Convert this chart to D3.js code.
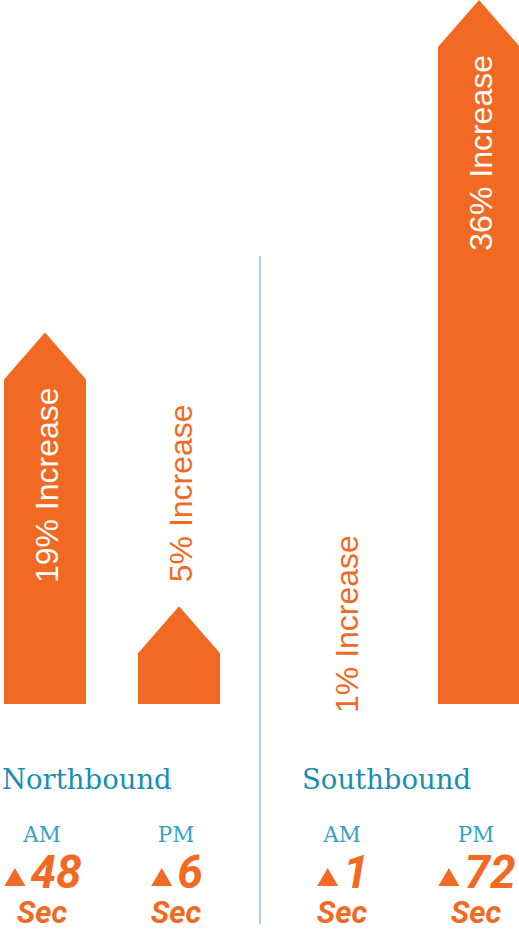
<!DOCTYPE html>
<html>
<head>
<meta charset="utf-8">
<script src="https://cdn.jsdelivr.net/npm/d3@7/dist/d3.min.js"></script>
<style>
  html, body { margin: 0; padding: 0; background: #fff; }
  svg { display: block; }
</style>
</head>
<body>
<svg id="chart" width="519" height="931"></svg>
<script>
// data
var groups = ["Northbound", "Southbound"];
var periods = ["AM", "PM"];
var increasePct = [19, 5, 1, 36];   // NB AM, NB PM, SB AM, SB PM
var delaySec = [48, 6, 1, 72];

var orange = "#f26924";
var teal = "#1a8eb0";

var rows = [];
groups.forEach(function (g, gi) {
  periods.forEach(function (p, pi) {
    var i = gi * periods.length + pi;
    rows.push({ group: g, period: p, pct: increasePct[i], sec: delaySec[i] });
  });
});

var svg = d3.select("#chart");

var x0 = d3.scaleBand().domain(groups).range([4, 520]).paddingInner(0.28);
var x1 = d3.scaleBand().domain(periods).range([0, x0.bandwidth()]).paddingInner(0.388);
var y = d3.scaleLinear().domain([0, 36]).range([704, 0]);
var headH = 47;

function cx(d) {
  return x0(d.group) + x1(d.period) + x1.bandwidth() / 2;
}

// arrows
var arrows = svg.append("g");
arrows.selectAll("path")
  .data(rows.filter(function (d) { return y(0) - y(d.pct) > headH; }))
  .enter()
  .append("path")
  .attr("fill", orange)
  .attr("d", function (d) {
    var left = x0(d.group) + x1(d.period);
    var right = left + x1.bandwidth();
    var top = y(d.pct);
    var p = d3.path();
    p.moveTo(left, y(0));
    p.lineTo(left, top + headH);
    p.lineTo(cx(d), top);
    p.lineTo(right, top + headH);
    p.lineTo(right, y(0));
    p.closePath();
    return p.toString();
  });

// increase labels
var labelW = 210;
arrows.selectAll("text")
  .data(rows)
  .enter()
  .append("text")
  .attr("font-family", "'Liberation Sans', Arial, sans-serif")
  .attr("font-size", "32px")
  .attr("dy", "0.36em")
  .each(function (d) {
    var h = y(0) - y(d.pct);
    var inside = h - headH > labelW;
    var pos;
    if (inside) {
      pos = y(d.pct) + 55;
      d3.select(this).attr("text-anchor", "end").attr("fill", "#fff");
    } else {
      pos = h > headH ? y(d.pct) - 24 : y(0) + 9;
      d3.select(this).attr("text-anchor", "start").attr("fill", orange);
    }
    d3.select(this).attr("transform", "translate(" + (cx(d) + 1) + "," + pos + ") rotate(-90)");
  })
  .text(function (d) { return d.pct + "% Increase"; });

// divider
var midX = (x0(groups[0]) + x0.bandwidth() + x0(groups[1])) / 2 - 2;
svg.append("line")
  .attr("x1", midX).attr("x2", midX)
  .attr("y1", 256).attr("y2", 924)
  .attr("stroke", "#93bdd5")
  .attr("stroke-width", 1.5);

// group titles
svg.append("g")
  .selectAll("text")
  .data(groups)
  .enter()
  .append("text")
  .attr("x", function (g) { return x0(g) - 2; })
  .attr("y", 789)
  .attr("font-family", "'Roboto Slab', 'DejaVu Serif', serif")
  .attr("font-size", "27.5px")
  .attr("fill", teal)
  .text(function (g) { return g; });

// period labels
svg.append("g")
  .selectAll("text")
  .data(rows)
  .enter()
  .append("text")
  .attr("x", function (d) { return cx(d) - 3; })
  .attr("y", 842)
  .attr("text-anchor", "middle")
  .attr("font-family", "'DejaVu Serif', serif")
  .attr("font-size", "21.5px")
  .attr("fill", "#35a2c4")
  .text(function (d) { return d.period; });

// seconds
var secs = svg.append("g").selectAll("g")
  .data(rows)
  .enter()
  .append("g");

secs.each(function (d) {
  var g = d3.select(this);
  var num = g.append("text")
    .attr("y", 888)
    .attr("font-family", "Roboto, sans-serif")
    .attr("font-weight", "bold")
    .attr("font-style", "italic")
    .attr("font-size", "46px")
    .attr("fill", orange)
    .text(d.sec);
  var tw = num.node().getComputedTextLength();
  var triW = 21, gap = 5;
  var total = triW + gap + tw;
  var start = cx(d) - 2 - total / 2;
  num.attr("x", start + triW + gap);
  g.append("path")
    .attr("fill", orange)
    .attr("d", "M" + start + ",886 L" + (start + triW / 2) + ",868 L" + (start + triW) + ",886 Z");
  g.append("text")
    .attr("x", cx(d) - 3)
    .attr("y", 923)
    .attr("text-anchor", "middle")
    .attr("font-family", "Roboto, sans-serif")
    .attr("font-weight", "bold")
    .attr("font-style", "italic")
    .attr("font-size", "31px")
    .attr("fill", orange)
    .text("Sec");
});
</script>
</body>
</html>
